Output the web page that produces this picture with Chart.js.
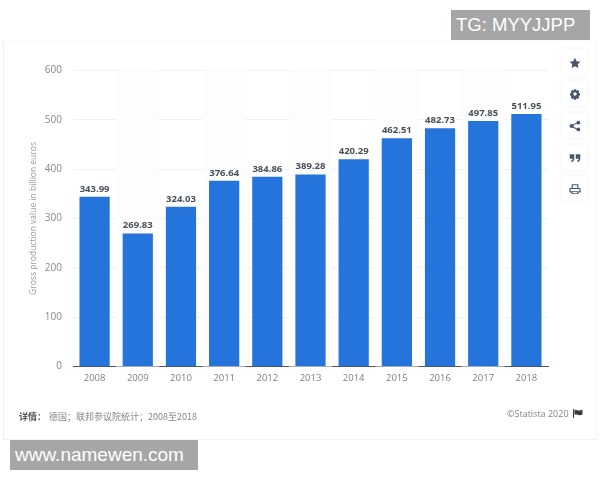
<!DOCTYPE html>
<html>
<head>
<meta charset="utf-8">
<script src="https://cdn.jsdelivr.net/npm/chart.js@4"></script>
<style>
  html, body { margin: 0; padding: 0; background: #fff; }
  #wrap { position: relative; width: 600px; height: 480px; overflow: hidden; font-family: 'Open Sans', sans-serif; }
  #card { position: absolute; left: 3px; top: 40px; width: 592px; height: 398px; border: 1px solid #f1f2f4; border-top-color: #fafafa; border-right-color: #f7f8f9; }
  canvas { position: absolute; left: 0; top: 0; }
  .mark { position: absolute; background: #a6a6a6; color: #fff; font-family: 'Liberation Sans', sans-serif; font-size: 18.5px; line-height: 29px; white-space: nowrap; }
  .note { position: absolute; font-size: 9px; line-height: 14px; color: #858585; white-space: nowrap; }
  .btn { position: absolute; left: 562px; width: 25px; height: 25px; background: #fff; border-radius: 4px; box-shadow: 0 0 5px rgba(40,60,90,.07); }
  .btn svg { position: absolute; left: 6.500px; top: 6.500px; width: 12px; height: 12px; fill: #47566f; }
</style>
</head>
<body>
<div id="wrap">
  <div id="card"></div>
  <canvas id="chartProducao" width="600" height="480"></canvas>
  <div class="mark" style="left:451px;top:10px;width:134px;height:30px;padding-left:5px">TG: MYYJJPP</div>
  <div class="mark" style="left:10px;top:440px;width:183px;height:30px;padding-left:5px;font-size:19px">www.namewen.com</div>
  <div class="note" style="left:19px;top:410px;font-family:'Noto Sans CJK SC';color:#555;font-weight:700">详情：</div>
  <div class="note" style="left:49px;top:410px;font-family:'Noto Sans CJK SC'">德国；联邦参议院统计；2008至2018</div>
  <div class="note" style="left:507px;top:407px">©Statista 2020</div>
  <svg style="position:absolute;left:573px;top:409px;width:10px;height:9px" viewBox="0 0 10 9"><path fill="#3c3c3c" d="M0 0h1v9H0zM1.500 1c2-1 3 .8 4.500.6S8.500 1 9.500.5v5c-1 .8-2.500 1-3.800.6S3 5.200 1.500 6z"/></svg>

  <div class="btn" style="top:50px"><svg viewBox="0 0 16 16"><path d="M8 1l2.200 4.600 5 .7-3.600 3.500.9 5L8 12.400l-4.500 2.400.9-5L.8 6.300l5-.7z"/></svg></div>
  <div class="btn" style="top:81px"><svg viewBox="0 0 16 16"><path fill-rule="evenodd" d="M6.500 1.500h3l.4 2 1.800-1 2 2.300-1.100 1.700 2 .5v3l-2 .5 1.100 1.700-2 2.300-1.800-1-.4 2h-3l-.4-2-1.800 1-2-2.300 1.100-1.700-2-.5v-3l2-.5-1.100-1.700 2-2.300 1.800 1zM8 5.700a2.300 2.300 0 1 0 0 4.600 2.300 2.300 0 0 0 0-4.600z"/></svg></div>
  <div class="btn" style="top:113px"><svg viewBox="0 0 16 16"><circle cx="3.500" cy="8" r="2.800"/><circle cx="12.500" cy="3.500" r="2.500"/><circle cx="12.500" cy="12.500" r="2.500"/><path d="M3 7l9-4.500.6 1.200-9 4.500zM3.600 7.800l9 4.500-.6 1.200-9-4.500z"/></svg></div>
  <div class="btn" style="top:145px"><svg viewBox="0 0 16 16"><path d="M1 3h6v6c0 2.500-1.500 4-4 4.300v-2C4.200 11 5 10.300 5 9H1zM9 3h6v6c0 2.500-1.500 4-4 4.300v-2c1.200-.3 2-1 2-2.300H9z"/></svg></div>
  <div class="btn" style="top:176px"><svg viewBox="0 0 16 16"><path fill-rule="evenodd" d="M3.500 1.500h9v5h2a1 1 0 0 1 1 1v5h-3v2h-9v-2h-3v-5a1 1 0 0 1 1-1h2zM5 3v3.500h6V3zM2 8v3h12V8zM5 12v1.500h6V12z"/></svg></div>
</div>
<script>
const anos = ['2008', '2009', '2010', '2011', '2012', '2013', '2014', '2015', '2016', '2017', '2018'];
const producao = [343.99, 269.83, 324.03, 376.64, 384.86, 389.28, 420.29, 462.51, 482.73, 497.85, 511.95];
const ticksY = [0, 100, 200, 300, 400, 500, 600];

Chart.defaults.font.family = 'Open Sans';

// faixas claras atras das barras, uma coluna sim outra nao
const faixas = {
  id: 'faixas',
  beforeDatasetsDraw(chart) {
    const { ctx, chartArea, scales } = chart;
    const passo = scales.x.width / anos.length;
    ctx.save();
    ctx.fillStyle = '#fdfdfd';
    anos.forEach((ano, i) => {
      if (i % 2 === 1) {
        ctx.fillRect(scales.x.getPixelForValue(i) - passo / 2, chartArea.top, passo, chartArea.height);
      }
    });
    ctx.restore();
  }
};

// valor em cima de cada barra
const rotulos = {
  id: 'rotulos',
  afterDatasetsDraw(chart) {
    const { ctx } = chart;
    ctx.save();
    ctx.font = '700 9.5px "Open Sans"';
    ctx.fillStyle = '#4a5059';
    ctx.textAlign = 'center';
    ctx.textBaseline = 'bottom';
    chart.getDatasetMeta(0).data.forEach((bar, i) => {
      ctx.fillText(producao[i].toFixed(2), bar.x, bar.y - 3);
    });
    ctx.restore();
  }
};

new Chart(document.getElementById('chartProducao'), {
  type: 'bar',
  data: {
    labels: anos,
    datasets: [{
      data: producao,
      backgroundColor: '#2574dc',
      categoryPercentage: 1,
      barPercentage: 0.7
    }]
  },
  plugins: [faixas, rotulos],
  options: {
    responsive: false,
    animation: false,
    layout: { padding: { left: 0, top: 70.5, right: 52, bottom: 83.5 } },
    plugins: { legend: { display: false }, tooltip: { enabled: false } },
    scales: {
      x: {
        afterFit(scale) { scale.height = 30; },
        grid: { display: false, drawTicks: false },
        border: { color: '#4a5866', width: 1 },
        ticks: { color: '#7e7e7e', font: { size: 9.5 }, padding: 6, maxRotation: 0 }
      },
      y: {
        min: 0,
        max: 600,
        afterFit(scale) { scale.width = 73; },
        afterBuildTicks(scale) { scale.ticks = ticksY.map(v => ({ value: v })); },
        title: {
          display: true,
          text: 'Gross production value in billion euros',
          color: '#9a9a9a',
          font: { size: 8.5 },
          padding: { top: 28, bottom: 0 }
        },
        grid: { color: '#f0f1f2', drawTicks: false },
        border: { display: false },
        ticks: { color: '#888888', font: { size: 10 }, padding: 11 }
      }
    }
  }
});
</script>
</body>
</html>
